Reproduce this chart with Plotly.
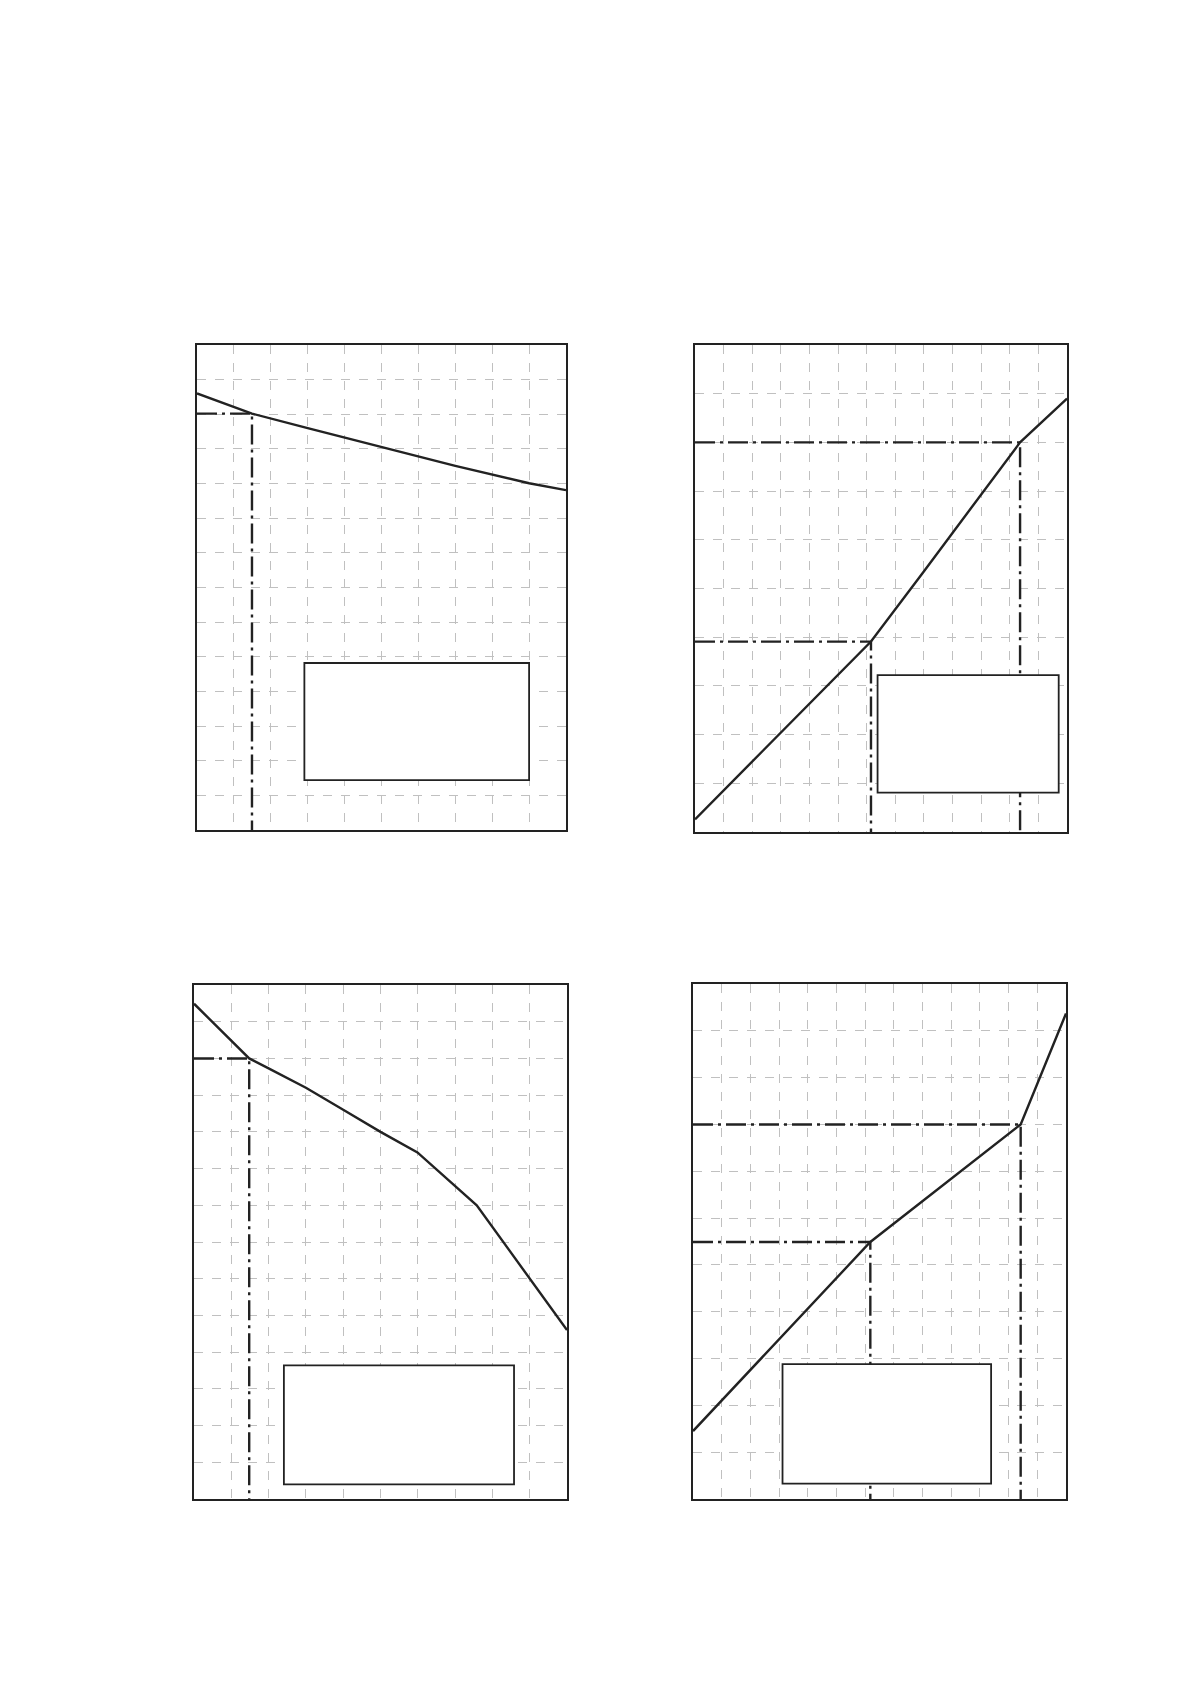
import plotly.graph_objects as go

# curve data for each panel (grid units)
p1_x = [0, 1.49, 3.0, 5.0, 7.0, 9.0, 10.0]
p1_y = [12.6, 12.02, 11.6, 11.06, 10.51, 10.01, 9.81]
p1_marks = [(1.49, 12.02)]

p2_x = [0, 3.0, 4.98, 6.15, 7.97, 8.98, 10.6, 11.36, 13.0]
p2_y = [0.26, 2.03, 3.2, 3.91, 5.33, 6.12, 7.4, 8.0, 8.9]
p2_marks = [(6.15, 3.91), (11.36, 8.0)]

p3_x = [0, 1.48, 2.0, 3.0, 4.0, 5.0, 5.99, 7.58, 10.0]
p3_y = [13.49, 12.0, 11.73, 11.2, 10.6, 10.0, 9.44, 8.0, 4.6]
p3_marks = [(1.48, 12.0)]

p4_x = [0, 6.18, 11.42, 13.0]
p4_y = [1.45, 5.49, 8.0, 10.37]
p4_marks = [(6.18, 5.49), (11.42, 8.0)]

W, H = 1190, 1684
PAGE_OFFSET = 8  # browser body margin

panels = [
    # data, axis ranges, pixel frame (left, right, top, bottom), empty legend box (x0, x1, y0, y1)
    dict(x=p1_x, y=p1_y, marks=p1_marks, xr=10, yr=14,
         px=(197, 566, 345, 830), box=(2.91, 9.0, 1.44, 4.82)),
    dict(x=p2_x, y=p2_y, marks=p2_marks, xr=13, yr=10,
         px=(695, 1067, 345, 832), box=(6.38, 12.71, 0.81, 3.22)),
    dict(x=p3_x, y=p3_y, marks=p3_marks, xr=10, yr=14,
         px=(194, 567, 985, 1499), box=(2.41, 8.58, 0.40, 3.64)),
    dict(x=p4_x, y=p4_y, marks=p4_marks, xr=13, yr=11,
         px=(693, 1066, 984, 1499), box=(3.12, 10.39, 0.33, 2.88)),
]

fig = go.Figure()
guide_dash = "20px,5px,3px,5px"

for i, p in enumerate(panels, start=1):
    xa = "x" if i == 1 else f"x{i}"
    ya = "y" if i == 1 else f"y{i}"
    l, r, t, b = p["px"]
    dx = [(l - PAGE_OFFSET) / W, (r - PAGE_OFFSET) / W]
    dy = [1 - (b - PAGE_OFFSET) / H, 1 - (t - PAGE_OFFSET) / H]

    # dash-dot guide lines to the marked points
    for mx, my in p["marks"]:
        fig.add_trace(go.Scatter(
            x=[0, mx, mx], y=[my, my, 0], mode="lines",
            line=dict(color="#222", width=2.4, dash=guide_dash),
            xaxis=xa, yaxis=ya, showlegend=False, hoverinfo="skip"))

    fig.add_trace(go.Scatter(
        x=p["x"], y=p["y"], mode="lines",
        line=dict(color="#222", width=2.4),
        xaxis=xa, yaxis=ya, showlegend=False))

    axis_common = dict(
        showgrid=True, gridcolor="#c0c0c0", griddash="dash", gridwidth=1,
        dtick=1, tick0=0, showticklabels=False, ticks="", zeroline=False,
        showline=True, mirror=True, linecolor="#222", linewidth=2.2,
    )
    fig.layout[f"xaxis{i if i > 1 else ''}"] = dict(
        axis_common, range=[0, p["xr"]], domain=dx, anchor=ya)
    fig.layout[f"yaxis{i if i > 1 else ''}"] = dict(
        axis_common, range=[0, p["yr"]], domain=dy, anchor=xa)

    bx0, bx1, by0, by1 = p["box"]
    fig.add_shape(type="rect", xref=xa, yref=ya, x0=bx0, x1=bx1, y0=by0, y1=by1,
                  fillcolor="white", line=dict(color="#222", width=1.8), layer="above")

fig.update_layout(
    width=W, height=H,
    margin=dict(l=0, r=0, t=0, b=0),
    paper_bgcolor="white", plot_bgcolor="white",
    showlegend=False,
)

fig.write_html("out.html")
